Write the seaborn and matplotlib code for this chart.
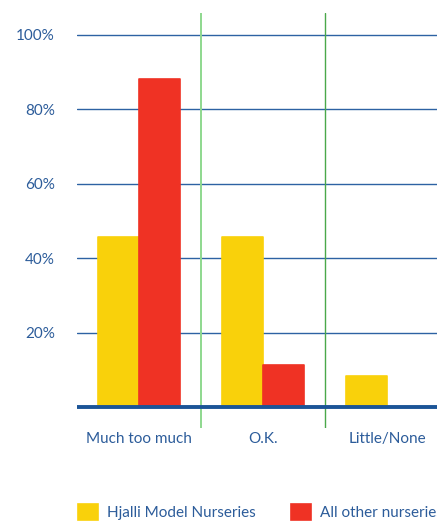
import matplotlib
matplotlib.use("Agg")
import matplotlib.pyplot as plt
import seaborn as sns
import pandas as pd

categories = ["Much too much", "O.K.", "Little/None"]
hjalli = [45.6, 45.6, 8.3]
others = [88.0, 11.3, 0.0]
series_names = ["Hjalli Model Nurseries", "All other nurseries"]
y_ticks = [20, 40, 60, 80, 100]
y_tick_labels = ["20%", "40%", "60%", "80%", "100%"]

YELLOW = "#f9d10b"
RED = "#ef3224"
BLUE_TEXT = "#2c5c9a"
GRID = "#2d62a3"
BASE = "#1b5497"

df = pd.DataFrame({
    "category": categories * 2,
    "value": hjalli + others,
    "series": [series_names[0]] * 3 + [series_names[1]] * 3,
})

sns.set_theme(style="white")
plt.rcParams["font.family"] = ["Lato", "DejaVu Sans"]

W, H, DPI = 437, 521, 100
fig = plt.figure(figsize=(W / DPI, H / DPI), dpi=DPI)
ax = fig.add_axes([77 / W, (H - 428) / H, 372 / W, 415 / H])

sns.barplot(data=df, x="category", y="value", hue="series",
            order=categories, hue_order=series_names,
            palette=[YELLOW, RED], width=0.66, gap=0,
            saturation=1, errorbar=None, ax=ax, legend=True, zorder=3)

for bar in ax.patches:
    bar.set_edgecolor(bar.get_facecolor())
    bar.set_linewidth(1.2)
    bar.set_joinstyle("round")

ax.set_xlim(-0.5, 2.5)
ax.set_ylim(-5.6, 105.8)

# horizontal grid lines and thick baseline
for yv in y_ticks:
    ax.axhline(yv, color=GRID, lw=1.0, zorder=1)
ax.axhline(0, color=BASE, lw=2.8, zorder=4)

# category separators
ax.axvline(0.5, color="#8ed88e", lw=1.4, zorder=2)
ax.axvline(1.5, color="#4aa84a", lw=1.0, zorder=2)

ax.set_yticks(y_ticks)
ax.set_yticklabels(y_tick_labels)
ax.tick_params(axis="y", length=0, pad=16, labelsize=11, labelcolor=BLUE_TEXT)
ax.tick_params(axis="x", length=0, pad=3, labelsize=11, labelcolor=BLUE_TEXT)
ax.set_xlabel("")
ax.set_ylabel("")
for s in ax.spines.values():
    s.set_visible(False)

handles, labels = ax.get_legend_handles_labels()
ax.get_legend().remove()
leg = fig.legend(handles, labels, loc="center left",
                 bbox_to_anchor=(78 / W, 9 / H), ncol=2, frameon=False,
                 fontsize=11, handlelength=1.3, handleheight=1.3,
                 handletextpad=0.6, columnspacing=2.3, borderpad=0,
                 borderaxespad=0)
for t in leg.get_texts():
    t.set_color(BLUE_TEXT)

fig.savefig("out.png", dpi=DPI)
